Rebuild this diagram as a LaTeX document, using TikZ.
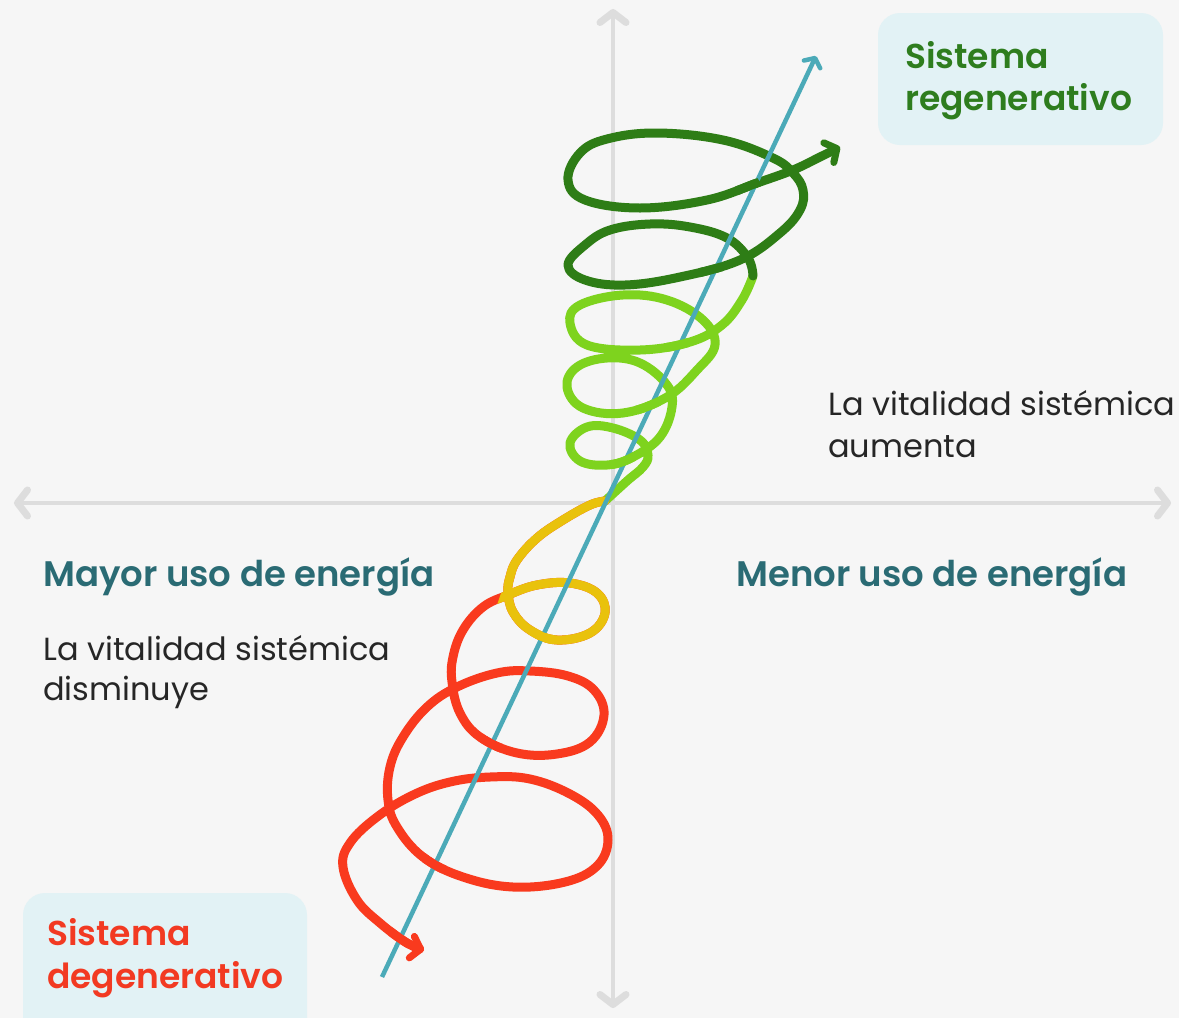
\documentclass[tikz,border=0pt]{standalone}
\usepackage{fontspec}
\setmainfont{Poppins}[BoldFont={Poppins SemiBold}]
\usetikzlibrary{arrows.meta}
\definecolor{bg}{HTML}{F6F6F6}
\definecolor{axisgray}{HTML}{DDDDDD}
\definecolor{blueline}{HTML}{4BAAB8}
\definecolor{dkgreen}{HTML}{2E7D16}
\definecolor{ltgreen}{HTML}{7ED31E}
\definecolor{yel}{HTML}{E9C20C}
\definecolor{redc}{HTML}{F93A1E}
\definecolor{headteal}{HTML}{2A6B74}
\definecolor{txtblack}{HTML}{262626}
\definecolor{boxfill}{HTML}{E2F2F5}
\definecolor{regtxt}{HTML}{2E7D1E}
\definecolor{degtxt}{HTML}{F23A22}
\newcommand\pathLtGreen{plot[smooth,tension=0.65] coordinates{(605,501) (627,481) (643,467) (648,455) (640,440) (613,428) (587,427) (570,443) (580,461) (607,465) (633,457) (660,437) (672,407) (667,385) (640,363) (607,358) (577,367) (567,387) (583,408) (623,413) (667,397) (697,370) (715,345) (703,320) (667,300) (623,295) (580,305) (570,323) (587,345) (640,350) (690,342) (722,325) (742,300) (753,276)}}
\newcommand\pathDkGreen{plot[smooth,tension=0.65] coordinates{(753,276) (748,258) (727,238) (690,227) (650,224) (610,230) (585,245) (568,265) (585,280) (625,285) (680,277) (740,260) (780,233) (800,210) (803,190) (793,173) (773,158) (723,140) (657,133) (607,139) (580,153) (568,180) (585,200) (640,208) (707,200) (757,183) (793,170) (820,157) (840,147)}}
\newcommand\pathDown{plot[smooth,tension=0.65] coordinates{(605,501) (590,505) (563,520) (537,538) (517,560) (510,577) (508,592) (513,612) (530,630) (557,640) (590,633) (605,613) (597,593) (570,583) (537,585) (508,595) (483,607) (463,630) (453,657) (452,682) (460,713) (480,737) (517,753) (557,754) (590,742) (604,715) (594,690) (568,676) (530,671) (497,673) (457,687) (427,707) (403,737) (390,767) (388,800) (397,827) (423,857) (463,877) (513,887) (565,882) (597,866) (608,840) (598,815) (570,794) (530,779) (490,777) (450,782) (413,795) (377,817) (350,843) (343,867) (357,900) (380,923) (407,943) (424,950)}}
\begin{document}
\begin{tikzpicture}[x=1pt,y=-1pt,
  axisline/.style={draw=axisgray,line width=4pt},
  spiral/.style={line width=9pt,line cap=round,line join=round},
  head/.style={font=\fontsize{35.5}{40}\selectfont\bfseries,text=headteal,inner sep=0pt,anchor=base west},
  body/.style={font=\fontsize{32}{38}\selectfont,text=txtblack,inner sep=0pt,anchor=base west},
  boxtxt/.style={font=\fontsize{34.5}{40}\selectfont\bfseries,inner sep=0pt,anchor=base west},
  infobox/.style={fill=boxfill,rounded corners=22pt,draw=none}]
\useasboundingbox (0,0) rectangle (1179,1018);
\clip (0,0) rectangle (1179,1018);
\fill[bg] (0,0) rectangle (1179,1018);
% boxes
\path[infobox] (878,13) rectangle (1163,145);
\path[infobox] (23,893) rectangle (307,1050);
% axes
\coordinate (vtop) at (613,9);
\coordinate (vbot) at (613,1008);
\coordinate (hleft) at (14,503);
\coordinate (hright) at (1171,503);
\draw[axisline,{Straight Barb[length=10pt,width=26pt,line width=7pt,round]}-{Straight Barb[length=10pt,width=26pt,line width=7pt,round]}] (vbot) -- (vtop);
\draw[axisline,{Straight Barb[length=10pt,width=26pt,line width=7pt,round]}-{Straight Barb[length=10pt,width=26pt,line width=7pt,round]}] (hleft) -- (hright);
% spiral (back)
\draw[spiral,draw=ltgreen] \pathLtGreen;
\draw[spiral,draw=dkgreen,-{Straight Barb[length=9pt,width=22pt,line width=7pt,round]}] \pathDkGreen;
\draw[spiral,draw=redc,-{Straight Barb[length=9pt,width=22pt,line width=7pt,round]}] \pathDown;
\begin{scope}
\clip (600,468) -- (660,468) -- (660,655) -- (515,655) -- (500,625) -- (497,605) -- (502,590) -- (500,560) -- (560,480) -- cycle;
\draw[spiral,draw=yel] \pathDown;
\end{scope}
% blue axis line
\coordinate (b0) at (382,977);
\coordinate (b1) at (816,56);
\draw[draw=blueline,line width=4.5pt,-{Straight Barb[length=7pt,width=18pt,line width=4.5pt,round]}] (b0) -- (b1);
% front passes over the blue line
\begin{scope}
\clip (623,460) circle (13) (648,406) circle (13) (677,345) circle (13);
\draw[spiral,draw=ltgreen] \pathLtGreen;
\end{scope}
\begin{scope}
\clip (711,271) circle (13) (748,187) circle (13);
\draw[spiral,draw=dkgreen] \pathDkGreen;
\end{scope}
\begin{scope}
\clip (541,637) circle (13);
\draw[spiral,draw=yel] \pathDown;
\end{scope}
\begin{scope}
\clip (490,744) circle (13) (435,862) circle (13) (401,937) circle (13);
\draw[spiral,draw=redc] \pathDown;
\end{scope}
% texts
\node[boxtxt,text=regtxt] (reg1) at (905,68) {Sistema};
\node[boxtxt,text=regtxt] (reg2) at (905,110) {regenerativo};
\node[boxtxt,text=degtxt] (deg1) at (47,945) {Sistema};
\node[boxtxt,text=degtxt] (deg2) at (47,988) {degenerativo};
\node[head] (mayor) at (43,586) {Mayor uso de energía};
\node[head] (menor) at (736,586) {Menor uso de energía};
\node[body] (aum1) at (828,415) {La vitalidad sistémica};
\node[body] (aum2) at (828,457) {aumenta};
\node[body] (dis1) at (43,660) {La vitalidad sistémica};
\node[body] (dis2) at (43,700) {disminuye};
\end{tikzpicture}
\end{document}
